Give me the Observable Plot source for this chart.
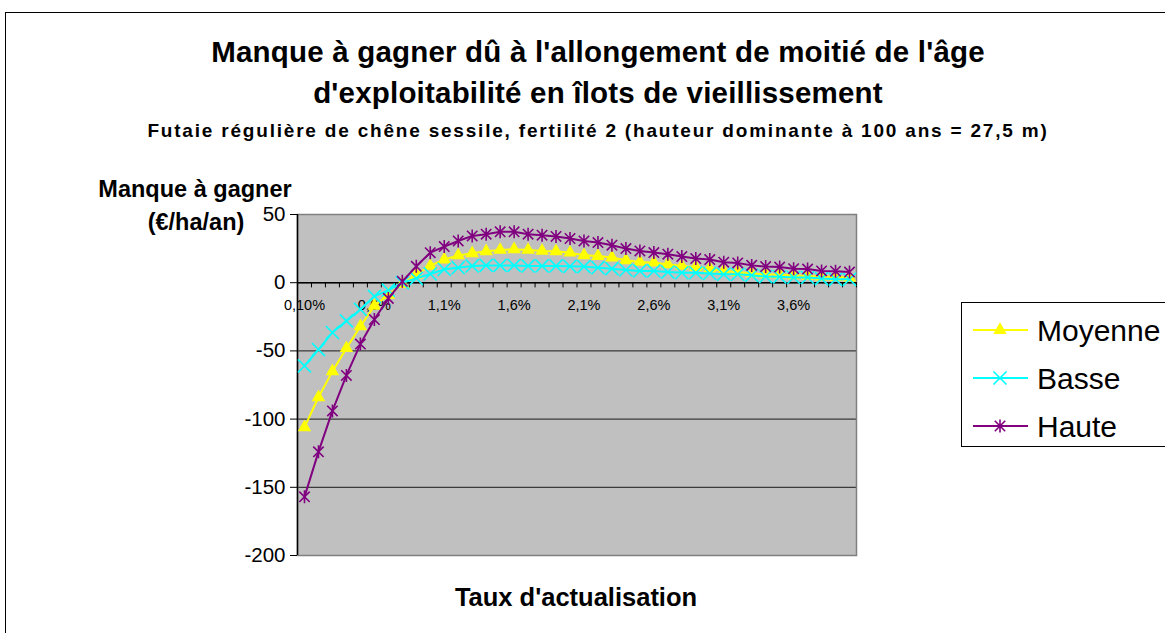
<!DOCTYPE html>
<html><head><meta charset="utf-8">
<script src="https://cdn.jsdelivr.net/npm/d3@7"></script>
<script src="https://cdn.jsdelivr.net/npm/@observablehq/plot@0.6"></script>
<style>
body{margin:0;background:#fff;font-family:"Liberation Sans",Arial,sans-serif;}
#wrap{position:relative;width:1165px;height:633px;overflow:hidden;background:#fff;}
#frame{position:absolute;left:5px;top:12px;width:1200px;height:700px;border:1px solid #000;}
.t{position:absolute;transform:translate(-50%,-50%);white-space:nowrap;line-height:1;font-weight:bold;color:#000;}
#chart{position:absolute;left:0;top:0;}
#legend{position:absolute;left:0;top:0;}
</style></head>
<body><div id="wrap">
<div id="frame"></div>
<div id="chart"></div>
<svg id="legend" width="1165" height="633"></svg>
<div class="t" style="left:598px;top:52px;font-size:29.5px;letter-spacing:0.2px;">Manque à gagner dû à l'allongement de moitié de l'âge</div>
<div class="t" style="left:598px;top:93px;font-size:29.5px;letter-spacing:0.2px;">d'exploitabilité en îlots de vieillissement</div>
<div class="t" style="left:598px;top:130px;font-size:19px;letter-spacing:1.8px;">Futaie régulière de chêne sessile, fertilité 2 (hauteur dominante à 100 ans = 27,5 m)</div>
<div class="t" style="left:195px;top:190px;font-size:23.5px;">Manque à gagner</div>
<div class="t" style="left:196px;top:223px;font-size:23.5px;">(€/ha/an)</div>
<div class="t" style="left:576px;top:598px;font-size:25.5px;">Taux d'actualisation</div>
</div>
<script>
const categories = ["0,1%","0,2%","0,3%","0,4%","0,5%","0,6%","0,7%","0,8%","0,9%","1,0%",
  "1,1%","1,2%","1,3%","1,4%","1,5%","1,6%","1,7%","1,8%","1,9%","2,0%",
  "2,1%","2,2%","2,3%","2,4%","2,5%","2,6%","2,7%","2,8%","2,9%","3,0%",
  "3,1%","3,2%","3,3%","3,4%","3,5%","3,6%","3,7%","3,8%","3,9%","4,0%"];
const tickLabels = ["0,10%","0,6%","1,1%","1,6%","2,1%","2,6%","3,1%","3,6%"];
const yTicks = [-200,-150,-100,-50,0,50];
const moyenne = [-106,-84,-65,-48,-32,-17,-9,-1,6,12.3,17,20,21.6,23,24,24.5,24,23.3,23,22,
  20.1,19.5,18.4,16.4,15.2,14.7,13.5,12.3,11.5,10.3,8.6,7.8,6.8,6.2,6,5.4,5,4.5,4.3,3.8];
const basse = [-61,-49,-36.5,-28,-19.6,-10,-5.5,0,3.2,6.4,9.8,11,12.3,12.7,12.7,12.7,12.3,12.3,12.3,12,
  11.8,11,10.3,9.3,8.6,8.6,7.8,7.3,7.3,6.8,6.2,6.2,5.4,4.5,4.3,3.8,3.8,3,2.5,2.5];
const haute = [-157,-124,-94,-68,-45,-27,-11.5,1,12,22,26.5,30.6,34.3,35.6,37.3,37.3,35.6,34.8,33.9,32.4,
  30.6,29.4,27.5,25,23.3,22.1,20.9,19.2,17.7,17,15,14.5,12.7,11.8,11.5,10.3,10,8.6,8.4,7.8];
const seriesNames = ["Moyenne","Basse","Haute"];
const seriesColors = ["#FFFF00","#00FFFF","#800080"];

const starSymbol = {draw(ctx, size){
  const r = Math.sqrt(size/Math.PI), d = r*0.8;
  ctx.moveTo(-d,-d); ctx.lineTo(d,d);
  ctx.moveTo(-d,d); ctx.lineTo(d,-d);
  ctx.moveTo(0,-r); ctx.lineTo(0,r);
}};
const seriesSymbols = ["triangle","times",starSymbol];
const seriesR = [5,6,6.5];
const seriesVals = [moyenne, basse, haute];

const seriesMarks = [];
seriesVals.forEach((vals, s) => {
  const rows = categories.map((c,i)=>({i, cat:c, v:vals[i]}));
  seriesMarks.push(Plot.line(rows, {x:d=>d.i+0.5, y:"v", stroke:seriesColors[s], strokeWidth:2}));
  if (s === 0) {
    seriesMarks.push(Plot.dot(rows, {x:d=>d.i+0.5, y:"v", symbol:"triangle", r:seriesR[s], fill:seriesColors[s], stroke:"none"}));
  } else {
    seriesMarks.push(Plot.dot(rows, {x:d=>d.i+0.5, y:"v", symbol:seriesSymbols[s], r:seriesR[s], fill:"none", stroke:seriesColors[s], strokeWidth:1.6}));
  }
});

const chart = Plot.plot({
  width:1165, height:633,
  marginLeft:297, marginRight:309, marginTop:214, marginBottom:78,
  style:{fontFamily:"'Liberation Sans', Arial, sans-serif", background:"transparent", color:"#000"},
  x:{domain:[0,categories.length], axis:null},
  y:{domain:[-200,50], axis:null},
  marks:[
    Plot.frame({fill:"#C0C0C0", stroke:null}),
    Plot.ruleY(yTicks, {stroke:"#1a1a1a", strokeWidth:1}),
    Plot.frame({stroke:"#808080", strokeWidth:1.5}),
    Plot.ruleX([0], {stroke:"#000", strokeWidth:1.5}),
    Plot.ruleY([0], {stroke:"#000", strokeWidth:1.5}),
    Plot.ruleX(d3.range(categories.length+1), {y1:0, y2:-3.8, stroke:"#000"}),
    Plot.axisY(yTicks, {anchor:"left", tickSize:7, tickPadding:5, fontSize:20.5, label:null, stroke:"#000", tickFormat:d=>String(d)}),
    Plot.text(tickLabels, {x:(d,i)=>i*5+0.5, y:0, dy:23, text:d=>d, fontSize:14.5, fill:"#000"}),
    ...seriesMarks
  ]
});
document.getElementById("chart").appendChild(chart);

// legend
const lg = d3.select("#legend");
lg.append("rect").attr("x",961.5).attr("y",302.5).attr("width",260).attr("height",144)
  .attr("fill","#fff").attr("stroke","#000").attr("stroke-width",1);
seriesNames.forEach((name, s) => {
  const cy = 330 + s*48;
  lg.append("line").attr("x1",973).attr("x2",1028).attr("y1",cy).attr("y2",cy)
    .attr("stroke",seriesColors[s]).attr("stroke-width",2);
  const sym = s===0 ? d3.symbolTriangle : (s===1 ? d3.symbolTimes : starSymbol);
  const p = lg.append("path").attr("transform",`translate(1000,${cy})`)
    .attr("d", d3.symbol(sym, Math.PI*seriesR[s]*seriesR[s])());
  if (s===0) p.attr("fill",seriesColors[s]);
  else p.attr("fill","none").attr("stroke",seriesColors[s]).attr("stroke-width",1.6);
  lg.append("text").attr("x",1037).attr("y",cy+11).attr("font-size",30)
    .attr("font-family","'Liberation Sans', Arial, sans-serif").attr("fill","#000").text(name);
});
</script>
</body></html>
